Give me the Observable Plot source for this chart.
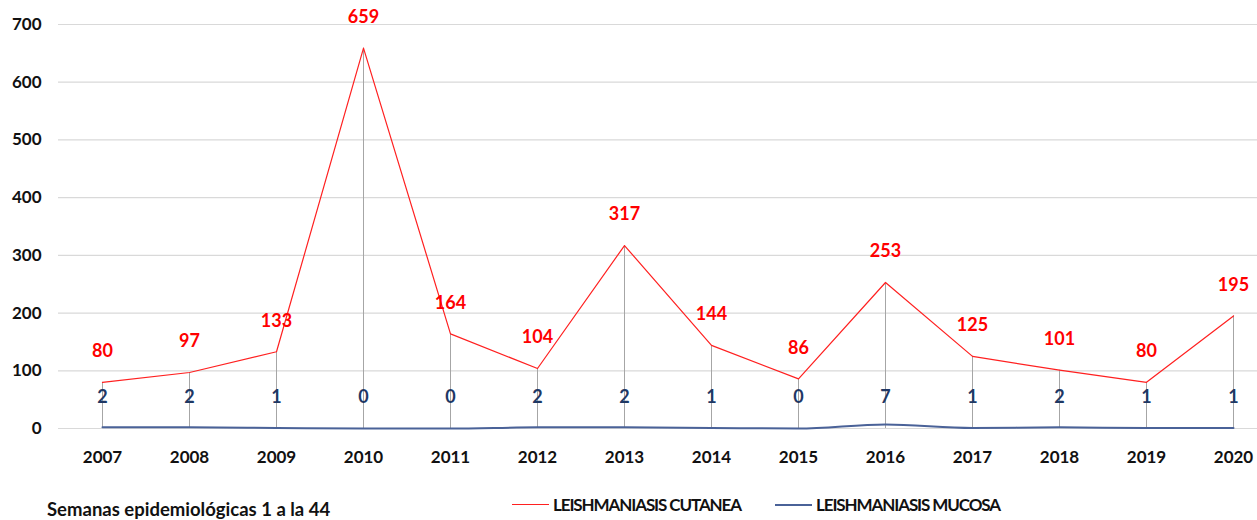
<!DOCTYPE html>
<html>
<head>
<meta charset="utf-8">
<script src="https://cdn.jsdelivr.net/npm/d3@7"></script>
<script src="https://cdn.jsdelivr.net/npm/@observablehq/plot@0.6"></script>
<style>
  html, body { margin: 0; padding: 0; background: #fff; }
  #wrap { position: relative; width: 1257px; height: 520px; overflow: hidden; font-family: Lato, "Open Sans", sans-serif; }
  #chart { position: absolute; left: 0; top: 0; }
  .leg { position: absolute; top: 494px; font-weight: 700; font-size: 17px; letter-spacing: -1.1px; color: #111; display: flex; align-items: center; white-space: nowrap; }
  .sw { display: inline-block; width: 37px; height: 0; margin-right: 4px; }
  #note { position: absolute; left: 47px; top: 498px; font-size: 18.5px; font-weight: 700; color: #111; white-space: nowrap; }
</style>
</head>
<body>
<div id="wrap">
  <div id="chart"></div>
  <div id="note">Semanas epidemiológicas 1 a la 44</div>
  <div class="leg" style="left:512px"><span class="sw" style="border-top:1.5px solid #ff2020"></span>LEISHMANIASIS CUTANEA</div>
  <div class="leg" style="left:775px"><span class="sw" style="border-top:2px solid #4a6298"></span>LEISHMANIASIS MUCOSA</div>
</div>
<script>
const years = [2007, 2008, 2009, 2010, 2011, 2012, 2013, 2014, 2015, 2016, 2017, 2018, 2019, 2020];
const cutanea = [80, 97, 133, 659, 164, 104, 317, 144, 86, 253, 125, 101, 80, 195];
const mucosa = [2, 2, 1, 0, 0, 2, 2, 1, 0, 7, 1, 2, 1, 1];
const yTicks = [0, 100, 200, 300, 400, 500, 600, 700];

const data = years.map((y, i) => ({year: y, cut: cutanea[i], muc: mucosa[i]}));

const plot = Plot.plot({
  width: 1257,
  height: 480,
  marginTop: 24,
  marginBottom: 52,
  marginLeft: 58,
  marginRight: 0,
  style: {fontFamily: "Lato, 'Open Sans', sans-serif", background: "transparent"},
  x: {type: "point", domain: years, insetLeft: 43, insetRight: 24, padding: 0},
  y: {domain: [0, 700], ticks: yTicks},
  marks: [
    Plot.ruleY(yTicks, {stroke: "#d9d9d9", strokeWidth: 1.2}),
    Plot.ruleX(data, {x: "year", y1: 0, y2: "cut", stroke: "#a6a6a6", strokeWidth: 1}),
    Plot.line(data, {x: "year", y: "muc", stroke: "#4a6298", strokeWidth: 2, curve: "monotone-x"}),
    Plot.line(data, {x: "year", y: "cut", stroke: "#ff2020", strokeWidth: 1.2}),
    Plot.text(data, {x: "year", y: "cut", text: d => String(d.cut), dy: -31, fill: "#ff0000", fontWeight: 700, fontSize: 18}),
    Plot.text(data, {x: "year", y: () => 0, text: d => String(d.muc), dy: -31, fill: "#1f3864", fontWeight: 700, fontSize: 18}),
    Plot.axisY({ticks: yTicks, tickSize: 0, tickPadding: 17, fontSize: 17, fontWeight: 700, fill: "#111", label: null}),
    Plot.axisX({tickSize: 0, tickPadding: 22, fontSize: 17, fontWeight: 700, fill: "#111", label: null, tickFormat: d => String(d)})
  ]
});
document.getElementById("chart").appendChild(plot);
</script>
</body>
</html>
